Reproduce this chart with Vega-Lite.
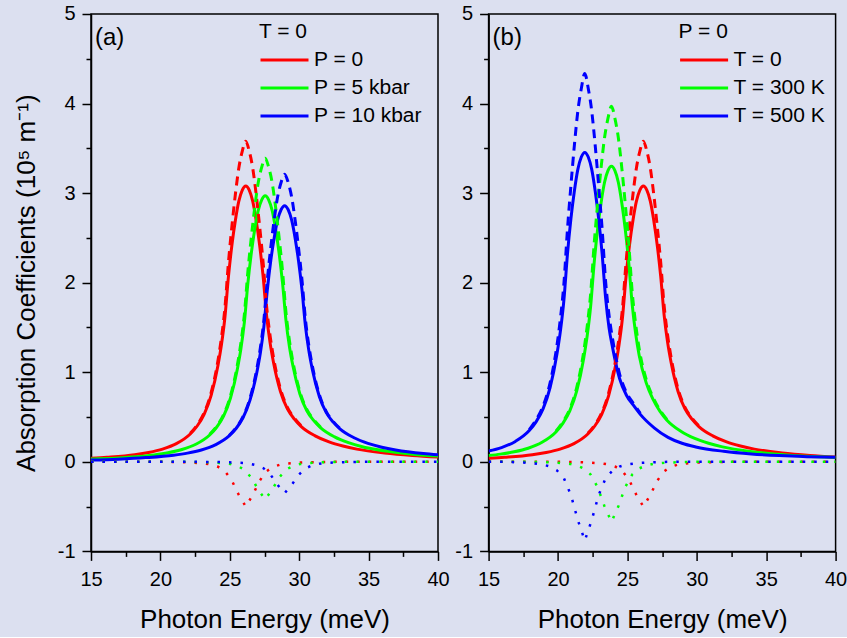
{
 "$schema": "https://vega.github.io/schema/vega-lite/v6.json",
 "background": "#DCE0F0",
 "padding": {"left": 12, "top": 3, "right": 0, "bottom": 4},
 "spacing": 50.6,
 "bounds": "flush",
 "resolve": {"scale": {"color": "independent"}, "legend": {"color": "independent"}},
 "datasets": {
  "a": [
   {"series":"P = 0","kind":"total","E":15,"A":0.039},{"series":"P = 0","kind":"total","E":16.15,"A":0.051},{"series":"P = 0","kind":"total","E":18.15,"A":0.080},{"series":"P = 0","kind":"total","E":19.15,"A":0.105},{"series":"P = 0","kind":"total","E":20.15,"A":0.142},{"series":"P = 0","kind":"total","E":21.15,"A":0.203},{"series":"P = 0","kind":"total","E":22.15,"A":0.311},{"series":"P = 0","kind":"total","E":22.65,"A":0.400},{"series":"P = 0","kind":"total","E":23.15,"A":0.530},{"series":"P = 0","kind":"total","E":23.65,"A":0.739},{"series":"P = 0","kind":"total","E":24.15,"A":1.078},{"series":"P = 0","kind":"total","E":24.4,"A":1.309},{"series":"P = 0","kind":"total","E":24.65,"A":1.617},{"series":"P = 0","kind":"total","E":24.9,"A":2.064},{"series":"P = 0","kind":"total","E":25.15,"A":2.418},{"series":"P = 0","kind":"total","E":25.4,"A":2.695},{"series":"P = 0","kind":"total","E":25.65,"A":2.911},{"series":"P = 0","kind":"total","E":25.9,"A":3.034},{"series":"P = 0","kind":"total","E":26.15,"A":3.08},{"series":"P = 0","kind":"total","E":26.4,"A":3.034},{"series":"P = 0","kind":"total","E":26.65,"A":2.911},{"series":"P = 0","kind":"total","E":26.9,"A":2.695},{"series":"P = 0","kind":"total","E":27.15,"A":2.418},{"series":"P = 0","kind":"total","E":27.4,"A":2.070},{"series":"P = 0","kind":"total","E":27.65,"A":1.632},{"series":"P = 0","kind":"total","E":27.9,"A":1.331},{"series":"P = 0","kind":"total","E":28.15,"A":1.109},{"series":"P = 0","kind":"total","E":28.65,"A":0.785},{"series":"P = 0","kind":"total","E":29.15,"A":0.591},{"series":"P = 0","kind":"total","E":29.65,"A":0.477},{"series":"P = 0","kind":"total","E":30.15,"A":0.394},{"series":"P = 0","kind":"total","E":31.15,"A":0.290},{"series":"P = 0","kind":"total","E":32.15,"A":0.222},{"series":"P = 0","kind":"total","E":33.15,"A":0.176},{"series":"P = 0","kind":"total","E":34.15,"A":0.142},{"series":"P = 0","kind":"total","E":36.15,"A":0.099},{"series":"P = 0","kind":"total","E":38.15,"A":0.071},{"series":"P = 0","kind":"total","E":40,"A":0.053},
   {"series":"P = 0","kind":"linear","E":22.15,"A":0.318},{"series":"P = 0","kind":"linear","E":22.65,"A":0.412},{"series":"P = 0","kind":"linear","E":23.15,"A":0.548},{"series":"P = 0","kind":"linear","E":23.65,"A":0.769},{"series":"P = 0","kind":"linear","E":24.15,"A":1.133},{"series":"P = 0","kind":"linear","E":24.4,"A":1.389},{"series":"P = 0","kind":"linear","E":24.65,"A":1.722},{"series":"P = 0","kind":"linear","E":24.9,"A":2.222},{"series":"P = 0","kind":"linear","E":25.15,"A":2.628},{"series":"P = 0","kind":"linear","E":25.4,"A":2.985},{"series":"P = 0","kind":"linear","E":25.65,"A":3.281},{"series":"P = 0","kind":"linear","E":25.9,"A":3.469},{"series":"P = 0","kind":"linear","E":26.15,"A":3.58},{"series":"P = 0","kind":"linear","E":26.4,"A":3.469},{"series":"P = 0","kind":"linear","E":26.65,"A":3.281},{"series":"P = 0","kind":"linear","E":26.9,"A":2.985},{"series":"P = 0","kind":"linear","E":27.15,"A":2.628},{"series":"P = 0","kind":"linear","E":27.4,"A":2.228},{"series":"P = 0","kind":"linear","E":27.65,"A":1.737},{"series":"P = 0","kind":"linear","E":27.9,"A":1.411},{"series":"P = 0","kind":"linear","E":28.15,"A":1.164},{"series":"P = 0","kind":"linear","E":28.65,"A":0.815},{"series":"P = 0","kind":"linear","E":29.15,"A":0.609},{"series":"P = 0","kind":"linear","E":29.65,"A":0.489},{"series":"P = 0","kind":"linear","E":30.15,"A":0.401},
   {"series":"P = 0","kind":"nonlinear","E":15,"A":0},{"series":"P = 0","kind":"nonlinear","E":20.15,"A":0},{"series":"P = 0","kind":"nonlinear","E":21.15,"A":-0.003},{"series":"P = 0","kind":"nonlinear","E":22.15,"A":-0.007},{"series":"P = 0","kind":"nonlinear","E":23.15,"A":-0.018},{"series":"P = 0","kind":"nonlinear","E":23.65,"A":-0.03},{"series":"P = 0","kind":"nonlinear","E":24.15,"A":-0.055},{"series":"P = 0","kind":"nonlinear","E":24.65,"A":-0.105},{"series":"P = 0","kind":"nonlinear","E":25.15,"A":-0.21},{"series":"P = 0","kind":"nonlinear","E":25.65,"A":-0.37},{"series":"P = 0","kind":"nonlinear","E":26.15,"A":-0.5},{"series":"P = 0","kind":"nonlinear","E":26.65,"A":-0.37},{"series":"P = 0","kind":"nonlinear","E":27.15,"A":-0.21},{"series":"P = 0","kind":"nonlinear","E":27.65,"A":-0.105},{"series":"P = 0","kind":"nonlinear","E":28.15,"A":-0.055},{"series":"P = 0","kind":"nonlinear","E":28.65,"A":-0.03},{"series":"P = 0","kind":"nonlinear","E":29.15,"A":-0.018},{"series":"P = 0","kind":"nonlinear","E":30.15,"A":-0.007},{"series":"P = 0","kind":"nonlinear","E":31.15,"A":-0.003},{"series":"P = 0","kind":"nonlinear","E":32.15,"A":0},{"series":"P = 0","kind":"nonlinear","E":40,"A":0},
   {"series":"P = 5 kbar","kind":"total","E":15,"A":0.031},{"series":"P = 5 kbar","kind":"total","E":15.55,"A":0.033},{"series":"P = 5 kbar","kind":"total","E":17.55,"A":0.049},{"series":"P = 5 kbar","kind":"total","E":19.55,"A":0.077},{"series":"P = 5 kbar","kind":"total","E":20.55,"A":0.101},{"series":"P = 5 kbar","kind":"total","E":21.55,"A":0.137},{"series":"P = 5 kbar","kind":"total","E":22.55,"A":0.196},{"series":"P = 5 kbar","kind":"total","E":23.55,"A":0.300},{"series":"P = 5 kbar","kind":"total","E":24.05,"A":0.386},{"series":"P = 5 kbar","kind":"total","E":24.55,"A":0.511},{"series":"P = 5 kbar","kind":"total","E":25.05,"A":0.713},{"series":"P = 5 kbar","kind":"total","E":25.55,"A":1.040},{"series":"P = 5 kbar","kind":"total","E":25.8,"A":1.262},{"series":"P = 5 kbar","kind":"total","E":26.05,"A":1.559},{"series":"P = 5 kbar","kind":"total","E":26.3,"A":1.990},{"series":"P = 5 kbar","kind":"total","E":26.55,"A":2.331},{"series":"P = 5 kbar","kind":"total","E":26.8,"A":2.599},{"series":"P = 5 kbar","kind":"total","E":27.05,"A":2.807},{"series":"P = 5 kbar","kind":"total","E":27.3,"A":2.925},{"series":"P = 5 kbar","kind":"total","E":27.55,"A":2.97},{"series":"P = 5 kbar","kind":"total","E":27.8,"A":2.925},{"series":"P = 5 kbar","kind":"total","E":28.05,"A":2.807},{"series":"P = 5 kbar","kind":"total","E":28.3,"A":2.599},{"series":"P = 5 kbar","kind":"total","E":28.55,"A":2.331},{"series":"P = 5 kbar","kind":"total","E":28.8,"A":1.996},{"series":"P = 5 kbar","kind":"total","E":29.05,"A":1.574},{"series":"P = 5 kbar","kind":"total","E":29.3,"A":1.283},{"series":"P = 5 kbar","kind":"total","E":29.55,"A":1.069},{"series":"P = 5 kbar","kind":"total","E":30.05,"A":0.757},{"series":"P = 5 kbar","kind":"total","E":30.55,"A":0.570},{"series":"P = 5 kbar","kind":"total","E":31.05,"A":0.460},{"series":"P = 5 kbar","kind":"total","E":31.55,"A":0.380},{"series":"P = 5 kbar","kind":"total","E":32.55,"A":0.279},{"series":"P = 5 kbar","kind":"total","E":33.55,"A":0.214},{"series":"P = 5 kbar","kind":"total","E":34.55,"A":0.169},{"series":"P = 5 kbar","kind":"total","E":35.55,"A":0.137},{"series":"P = 5 kbar","kind":"total","E":37.55,"A":0.095},{"series":"P = 5 kbar","kind":"total","E":39.55,"A":0.068},{"series":"P = 5 kbar","kind":"total","E":40,"A":0.064},
   {"series":"P = 5 kbar","kind":"linear","E":23.55,"A":0.306},{"series":"P = 5 kbar","kind":"linear","E":24.05,"A":0.396},{"series":"P = 5 kbar","kind":"linear","E":24.55,"A":0.526},{"series":"P = 5 kbar","kind":"linear","E":25.05,"A":0.738},{"series":"P = 5 kbar","kind":"linear","E":25.55,"A":1.086},{"series":"P = 5 kbar","kind":"linear","E":25.8,"A":1.329},{"series":"P = 5 kbar","kind":"linear","E":26.05,"A":1.647},{"series":"P = 5 kbar","kind":"linear","E":26.3,"A":2.122},{"series":"P = 5 kbar","kind":"linear","E":26.55,"A":2.507},{"series":"P = 5 kbar","kind":"linear","E":26.8,"A":2.843},{"series":"P = 5 kbar","kind":"linear","E":27.05,"A":3.118},{"series":"P = 5 kbar","kind":"linear","E":27.3,"A":3.29},{"series":"P = 5 kbar","kind":"linear","E":27.55,"A":3.39},{"series":"P = 5 kbar","kind":"linear","E":27.8,"A":3.29},{"series":"P = 5 kbar","kind":"linear","E":28.05,"A":3.118},{"series":"P = 5 kbar","kind":"linear","E":28.3,"A":2.843},{"series":"P = 5 kbar","kind":"linear","E":28.55,"A":2.507},{"series":"P = 5 kbar","kind":"linear","E":28.8,"A":2.128},{"series":"P = 5 kbar","kind":"linear","E":29.05,"A":1.662},{"series":"P = 5 kbar","kind":"linear","E":29.3,"A":1.35},{"series":"P = 5 kbar","kind":"linear","E":29.55,"A":1.115},{"series":"P = 5 kbar","kind":"linear","E":30.05,"A":0.782},{"series":"P = 5 kbar","kind":"linear","E":30.55,"A":0.585},{"series":"P = 5 kbar","kind":"linear","E":31.05,"A":0.47},{"series":"P = 5 kbar","kind":"linear","E":31.55,"A":0.386},
   {"series":"P = 5 kbar","kind":"nonlinear","E":15,"A":0},{"series":"P = 5 kbar","kind":"nonlinear","E":21.55,"A":0},{"series":"P = 5 kbar","kind":"nonlinear","E":22.55,"A":-0.002},{"series":"P = 5 kbar","kind":"nonlinear","E":23.55,"A":-0.006},{"series":"P = 5 kbar","kind":"nonlinear","E":24.55,"A":-0.015},{"series":"P = 5 kbar","kind":"nonlinear","E":25.05,"A":-0.025},{"series":"P = 5 kbar","kind":"nonlinear","E":25.55,"A":-0.046},{"series":"P = 5 kbar","kind":"nonlinear","E":26.05,"A":-0.088},{"series":"P = 5 kbar","kind":"nonlinear","E":26.55,"A":-0.176},{"series":"P = 5 kbar","kind":"nonlinear","E":27.05,"A":-0.311},{"series":"P = 5 kbar","kind":"nonlinear","E":27.55,"A":-0.42},{"series":"P = 5 kbar","kind":"nonlinear","E":28.05,"A":-0.311},{"series":"P = 5 kbar","kind":"nonlinear","E":28.55,"A":-0.176},{"series":"P = 5 kbar","kind":"nonlinear","E":29.05,"A":-0.088},{"series":"P = 5 kbar","kind":"nonlinear","E":29.55,"A":-0.046},{"series":"P = 5 kbar","kind":"nonlinear","E":30.05,"A":-0.025},{"series":"P = 5 kbar","kind":"nonlinear","E":30.55,"A":-0.015},{"series":"P = 5 kbar","kind":"nonlinear","E":31.55,"A":-0.006},{"series":"P = 5 kbar","kind":"nonlinear","E":32.55,"A":-0.002},{"series":"P = 5 kbar","kind":"nonlinear","E":33.55,"A":0},{"series":"P = 5 kbar","kind":"nonlinear","E":40,"A":0},
   {"series":"P = 10 kbar","kind":"total","E":15,"A":0.020},{"series":"P = 10 kbar","kind":"total","E":16.95,"A":0.030},{"series":"P = 10 kbar","kind":"total","E":18.95,"A":0.047},{"series":"P = 10 kbar","kind":"total","E":20.95,"A":0.074},{"series":"P = 10 kbar","kind":"total","E":21.95,"A":0.097},{"series":"P = 10 kbar","kind":"total","E":22.95,"A":0.132},{"series":"P = 10 kbar","kind":"total","E":23.95,"A":0.189},{"series":"P = 10 kbar","kind":"total","E":24.95,"A":0.289},{"series":"P = 10 kbar","kind":"total","E":25.45,"A":0.372},{"series":"P = 10 kbar","kind":"total","E":25.95,"A":0.492},{"series":"P = 10 kbar","kind":"total","E":26.45,"A":0.686},{"series":"P = 10 kbar","kind":"total","E":26.95,"A":1.001},{"series":"P = 10 kbar","kind":"total","E":27.2,"A":1.216},{"series":"P = 10 kbar","kind":"total","E":27.45,"A":1.502},{"series":"P = 10 kbar","kind":"total","E":27.7,"A":1.916},{"series":"P = 10 kbar","kind":"total","E":27.95,"A":2.245},{"series":"P = 10 kbar","kind":"total","E":28.2,"A":2.503},{"series":"P = 10 kbar","kind":"total","E":28.45,"A":2.703},{"series":"P = 10 kbar","kind":"total","E":28.7,"A":2.817},{"series":"P = 10 kbar","kind":"total","E":28.95,"A":2.86},{"series":"P = 10 kbar","kind":"total","E":29.2,"A":2.817},{"series":"P = 10 kbar","kind":"total","E":29.45,"A":2.703},{"series":"P = 10 kbar","kind":"total","E":29.7,"A":2.503},{"series":"P = 10 kbar","kind":"total","E":29.95,"A":2.245},{"series":"P = 10 kbar","kind":"total","E":30.2,"A":1.922},{"series":"P = 10 kbar","kind":"total","E":30.45,"A":1.516},{"series":"P = 10 kbar","kind":"total","E":30.7,"A":1.236},{"series":"P = 10 kbar","kind":"total","E":30.95,"A":1.030},{"series":"P = 10 kbar","kind":"total","E":31.45,"A":0.729},{"series":"P = 10 kbar","kind":"total","E":31.95,"A":0.549},{"series":"P = 10 kbar","kind":"total","E":32.45,"A":0.443},{"series":"P = 10 kbar","kind":"total","E":32.95,"A":0.366},{"series":"P = 10 kbar","kind":"total","E":33.95,"A":0.269},{"series":"P = 10 kbar","kind":"total","E":34.95,"A":0.206},{"series":"P = 10 kbar","kind":"total","E":35.95,"A":0.163},{"series":"P = 10 kbar","kind":"total","E":36.95,"A":0.132},{"series":"P = 10 kbar","kind":"total","E":38.95,"A":0.092},{"series":"P = 10 kbar","kind":"total","E":40,"A":0.078},
   {"series":"P = 10 kbar","kind":"linear","E":24.95,"A":0.294},{"series":"P = 10 kbar","kind":"linear","E":25.45,"A":0.380},{"series":"P = 10 kbar","kind":"linear","E":25.95,"A":0.504},{"series":"P = 10 kbar","kind":"linear","E":26.45,"A":0.707},{"series":"P = 10 kbar","kind":"linear","E":26.95,"A":1.040},{"series":"P = 10 kbar","kind":"linear","E":27.2,"A":1.272},{"series":"P = 10 kbar","kind":"linear","E":27.45,"A":1.575},{"series":"P = 10 kbar","kind":"linear","E":27.7,"A":2.026},{"series":"P = 10 kbar","kind":"linear","E":27.95,"A":2.392},{"series":"P = 10 kbar","kind":"linear","E":28.2,"A":2.706},{"series":"P = 10 kbar","kind":"linear","E":28.45,"A":2.962},{"series":"P = 10 kbar","kind":"linear","E":28.7,"A":3.122},{"series":"P = 10 kbar","kind":"linear","E":28.95,"A":3.21},{"series":"P = 10 kbar","kind":"linear","E":29.2,"A":3.122},{"series":"P = 10 kbar","kind":"linear","E":29.45,"A":2.962},{"series":"P = 10 kbar","kind":"linear","E":29.7,"A":2.706},{"series":"P = 10 kbar","kind":"linear","E":29.95,"A":2.392},{"series":"P = 10 kbar","kind":"linear","E":30.2,"A":2.032},{"series":"P = 10 kbar","kind":"linear","E":30.45,"A":1.590},{"series":"P = 10 kbar","kind":"linear","E":30.7,"A":1.292},{"series":"P = 10 kbar","kind":"linear","E":30.95,"A":1.069},{"series":"P = 10 kbar","kind":"linear","E":31.45,"A":0.750},{"series":"P = 10 kbar","kind":"linear","E":31.95,"A":0.561},{"series":"P = 10 kbar","kind":"linear","E":32.45,"A":0.451},{"series":"P = 10 kbar","kind":"linear","E":32.95,"A":0.371},
   {"series":"P = 10 kbar","kind":"nonlinear","E":15,"A":0},{"series":"P = 10 kbar","kind":"nonlinear","E":22.95,"A":0},{"series":"P = 10 kbar","kind":"nonlinear","E":23.95,"A":-0.002},{"series":"P = 10 kbar","kind":"nonlinear","E":24.95,"A":-0.005},{"series":"P = 10 kbar","kind":"nonlinear","E":25.95,"A":-0.012},{"series":"P = 10 kbar","kind":"nonlinear","E":26.45,"A":-0.021},{"series":"P = 10 kbar","kind":"nonlinear","E":26.95,"A":-0.039},{"series":"P = 10 kbar","kind":"nonlinear","E":27.45,"A":-0.074},{"series":"P = 10 kbar","kind":"nonlinear","E":27.95,"A":-0.147},{"series":"P = 10 kbar","kind":"nonlinear","E":28.45,"A":-0.259},{"series":"P = 10 kbar","kind":"nonlinear","E":28.95,"A":-0.35},{"series":"P = 10 kbar","kind":"nonlinear","E":29.45,"A":-0.259},{"series":"P = 10 kbar","kind":"nonlinear","E":29.95,"A":-0.147},{"series":"P = 10 kbar","kind":"nonlinear","E":30.45,"A":-0.074},{"series":"P = 10 kbar","kind":"nonlinear","E":30.95,"A":-0.039},{"series":"P = 10 kbar","kind":"nonlinear","E":31.45,"A":-0.021},{"series":"P = 10 kbar","kind":"nonlinear","E":31.95,"A":-0.012},{"series":"P = 10 kbar","kind":"nonlinear","E":32.95,"A":-0.005},{"series":"P = 10 kbar","kind":"nonlinear","E":33.95,"A":-0.002},{"series":"P = 10 kbar","kind":"nonlinear","E":34.95,"A":0},{"series":"P = 10 kbar","kind":"nonlinear","E":40,"A":0}
  ],
  "b": [
   {"series":"T = 0","kind":"total","E":15,"A":0.039},{"series":"T = 0","kind":"total","E":16.15,"A":0.051},{"series":"T = 0","kind":"total","E":18.15,"A":0.080},{"series":"T = 0","kind":"total","E":19.15,"A":0.105},{"series":"T = 0","kind":"total","E":20.15,"A":0.142},{"series":"T = 0","kind":"total","E":21.15,"A":0.203},{"series":"T = 0","kind":"total","E":22.15,"A":0.311},{"series":"T = 0","kind":"total","E":22.65,"A":0.400},{"series":"T = 0","kind":"total","E":23.15,"A":0.530},{"series":"T = 0","kind":"total","E":23.65,"A":0.739},{"series":"T = 0","kind":"total","E":24.15,"A":1.078},{"series":"T = 0","kind":"total","E":24.4,"A":1.309},{"series":"T = 0","kind":"total","E":24.65,"A":1.617},{"series":"T = 0","kind":"total","E":24.9,"A":2.064},{"series":"T = 0","kind":"total","E":25.15,"A":2.418},{"series":"T = 0","kind":"total","E":25.4,"A":2.695},{"series":"T = 0","kind":"total","E":25.65,"A":2.911},{"series":"T = 0","kind":"total","E":25.9,"A":3.034},{"series":"T = 0","kind":"total","E":26.15,"A":3.08},{"series":"T = 0","kind":"total","E":26.4,"A":3.034},{"series":"T = 0","kind":"total","E":26.65,"A":2.911},{"series":"T = 0","kind":"total","E":26.9,"A":2.695},{"series":"T = 0","kind":"total","E":27.15,"A":2.418},{"series":"T = 0","kind":"total","E":27.4,"A":2.070},{"series":"T = 0","kind":"total","E":27.65,"A":1.632},{"series":"T = 0","kind":"total","E":27.9,"A":1.331},{"series":"T = 0","kind":"total","E":28.15,"A":1.109},{"series":"T = 0","kind":"total","E":28.65,"A":0.785},{"series":"T = 0","kind":"total","E":29.15,"A":0.591},{"series":"T = 0","kind":"total","E":29.65,"A":0.477},{"series":"T = 0","kind":"total","E":30.15,"A":0.394},{"series":"T = 0","kind":"total","E":31.15,"A":0.290},{"series":"T = 0","kind":"total","E":32.15,"A":0.222},{"series":"T = 0","kind":"total","E":33.15,"A":0.176},{"series":"T = 0","kind":"total","E":34.15,"A":0.142},{"series":"T = 0","kind":"total","E":36.15,"A":0.099},{"series":"T = 0","kind":"total","E":38.15,"A":0.071},{"series":"T = 0","kind":"total","E":40,"A":0.053},
   {"series":"T = 0","kind":"linear","E":22.15,"A":0.318},{"series":"T = 0","kind":"linear","E":22.65,"A":0.412},{"series":"T = 0","kind":"linear","E":23.15,"A":0.548},{"series":"T = 0","kind":"linear","E":23.65,"A":0.769},{"series":"T = 0","kind":"linear","E":24.15,"A":1.133},{"series":"T = 0","kind":"linear","E":24.4,"A":1.389},{"series":"T = 0","kind":"linear","E":24.65,"A":1.722},{"series":"T = 0","kind":"linear","E":24.9,"A":2.222},{"series":"T = 0","kind":"linear","E":25.15,"A":2.628},{"series":"T = 0","kind":"linear","E":25.4,"A":2.985},{"series":"T = 0","kind":"linear","E":25.65,"A":3.281},{"series":"T = 0","kind":"linear","E":25.9,"A":3.469},{"series":"T = 0","kind":"linear","E":26.15,"A":3.58},{"series":"T = 0","kind":"linear","E":26.4,"A":3.469},{"series":"T = 0","kind":"linear","E":26.65,"A":3.281},{"series":"T = 0","kind":"linear","E":26.9,"A":2.985},{"series":"T = 0","kind":"linear","E":27.15,"A":2.628},{"series":"T = 0","kind":"linear","E":27.4,"A":2.228},{"series":"T = 0","kind":"linear","E":27.65,"A":1.737},{"series":"T = 0","kind":"linear","E":27.9,"A":1.411},{"series":"T = 0","kind":"linear","E":28.15,"A":1.164},{"series":"T = 0","kind":"linear","E":28.65,"A":0.815},{"series":"T = 0","kind":"linear","E":29.15,"A":0.609},{"series":"T = 0","kind":"linear","E":29.65,"A":0.489},{"series":"T = 0","kind":"linear","E":30.15,"A":0.401},
   {"series":"T = 0","kind":"nonlinear","E":15,"A":0},{"series":"T = 0","kind":"nonlinear","E":20.15,"A":0},{"series":"T = 0","kind":"nonlinear","E":21.15,"A":-0.003},{"series":"T = 0","kind":"nonlinear","E":22.15,"A":-0.007},{"series":"T = 0","kind":"nonlinear","E":23.15,"A":-0.018},{"series":"T = 0","kind":"nonlinear","E":23.65,"A":-0.03},{"series":"T = 0","kind":"nonlinear","E":24.15,"A":-0.055},{"series":"T = 0","kind":"nonlinear","E":24.65,"A":-0.105},{"series":"T = 0","kind":"nonlinear","E":25.15,"A":-0.21},{"series":"T = 0","kind":"nonlinear","E":25.65,"A":-0.37},{"series":"T = 0","kind":"nonlinear","E":26.15,"A":-0.5},{"series":"T = 0","kind":"nonlinear","E":26.65,"A":-0.37},{"series":"T = 0","kind":"nonlinear","E":27.15,"A":-0.21},{"series":"T = 0","kind":"nonlinear","E":27.65,"A":-0.105},{"series":"T = 0","kind":"nonlinear","E":28.15,"A":-0.055},{"series":"T = 0","kind":"nonlinear","E":28.65,"A":-0.03},{"series":"T = 0","kind":"nonlinear","E":29.15,"A":-0.018},{"series":"T = 0","kind":"nonlinear","E":30.15,"A":-0.007},{"series":"T = 0","kind":"nonlinear","E":31.15,"A":-0.003},{"series":"T = 0","kind":"nonlinear","E":32.15,"A":0},{"series":"T = 0","kind":"nonlinear","E":40,"A":0},
   {"series":"T = 300 K","kind":"total","E":15,"A":0.070},{"series":"T = 300 K","kind":"total","E":15.85,"A":0.086},{"series":"T = 300 K","kind":"total","E":16.85,"A":0.112},{"series":"T = 300 K","kind":"total","E":17.85,"A":0.152},{"series":"T = 300 K","kind":"total","E":18.85,"A":0.218},{"series":"T = 300 K","kind":"total","E":19.85,"A":0.333},{"series":"T = 300 K","kind":"total","E":20.35,"A":0.429},{"series":"T = 300 K","kind":"total","E":20.85,"A":0.568},{"series":"T = 300 K","kind":"total","E":21.35,"A":0.792},{"series":"T = 300 K","kind":"total","E":21.85,"A":1.155},{"series":"T = 300 K","kind":"total","E":22.1,"A":1.403},{"series":"T = 300 K","kind":"total","E":22.35,"A":1.733},{"series":"T = 300 K","kind":"total","E":22.6,"A":2.211},{"series":"T = 300 K","kind":"total","E":22.85,"A":2.591},{"series":"T = 300 K","kind":"total","E":23.1,"A":2.888},{"series":"T = 300 K","kind":"total","E":23.35,"A":3.119},{"series":"T = 300 K","kind":"total","E":23.6,"A":3.251},{"series":"T = 300 K","kind":"total","E":23.85,"A":3.30},{"series":"T = 300 K","kind":"total","E":24.1,"A":3.251},{"series":"T = 300 K","kind":"total","E":24.35,"A":3.119},{"series":"T = 300 K","kind":"total","E":24.6,"A":2.888},{"series":"T = 300 K","kind":"total","E":24.85,"A":2.591},{"series":"T = 300 K","kind":"total","E":25.1,"A":2.218},{"series":"T = 300 K","kind":"total","E":25.35,"A":1.749},{"series":"T = 300 K","kind":"total","E":25.6,"A":1.426},{"series":"T = 300 K","kind":"total","E":25.85,"A":1.188},{"series":"T = 300 K","kind":"total","E":26.35,"A":0.884},{"series":"T = 300 K","kind":"total","E":26.85,"A":0.697},{"series":"T = 300 K","kind":"total","E":27.35,"A":0.563},{"series":"T = 300 K","kind":"total","E":27.85,"A":0.465},{"series":"T = 300 K","kind":"total","E":28.85,"A":0.341},{"series":"T = 300 K","kind":"total","E":29.85,"A":0.261},{"series":"T = 300 K","kind":"total","E":30.85,"A":0.207},{"series":"T = 300 K","kind":"total","E":31.85,"A":0.167},{"series":"T = 300 K","kind":"total","E":33.85,"A":0.116},{"series":"T = 300 K","kind":"total","E":35.85,"A":0.084},{"series":"T = 300 K","kind":"total","E":37.85,"A":0.061},{"series":"T = 300 K","kind":"total","E":40,"A":0.048},
   {"series":"T = 300 K","kind":"linear","E":19.85,"A":0.342},{"series":"T = 300 K","kind":"linear","E":20.35,"A":0.445},{"series":"T = 300 K","kind":"linear","E":20.85,"A":0.591},{"series":"T = 300 K","kind":"linear","E":21.35,"A":0.832},{"series":"T = 300 K","kind":"linear","E":21.85,"A":1.229},{"series":"T = 300 K","kind":"linear","E":22.1,"A":1.510},{"series":"T = 300 K","kind":"linear","E":22.35,"A":1.874},{"series":"T = 300 K","kind":"linear","E":22.6,"A":2.422},{"series":"T = 300 K","kind":"linear","E":22.85,"A":2.872},{"series":"T = 300 K","kind":"linear","E":23.1,"A":3.277},{"series":"T = 300 K","kind":"linear","E":23.35,"A":3.615},{"series":"T = 300 K","kind":"linear","E":23.6,"A":3.834},{"series":"T = 300 K","kind":"linear","E":23.85,"A":3.97},{"series":"T = 300 K","kind":"linear","E":24.1,"A":3.834},{"series":"T = 300 K","kind":"linear","E":24.35,"A":3.615},{"series":"T = 300 K","kind":"linear","E":24.6,"A":3.277},{"series":"T = 300 K","kind":"linear","E":24.85,"A":2.872},{"series":"T = 300 K","kind":"linear","E":25.1,"A":2.429},{"series":"T = 300 K","kind":"linear","E":25.35,"A":1.890},{"series":"T = 300 K","kind":"linear","E":25.6,"A":1.533},{"series":"T = 300 K","kind":"linear","E":25.85,"A":1.262},{"series":"T = 300 K","kind":"linear","E":26.35,"A":0.924},{"series":"T = 300 K","kind":"linear","E":26.85,"A":0.720},{"series":"T = 300 K","kind":"linear","E":27.35,"A":0.579},{"series":"T = 300 K","kind":"linear","E":27.85,"A":0.473},
   {"series":"T = 300 K","kind":"nonlinear","E":15,"A":0},{"series":"T = 300 K","kind":"nonlinear","E":17.85,"A":0},{"series":"T = 300 K","kind":"nonlinear","E":18.85,"A":-0.003},{"series":"T = 300 K","kind":"nonlinear","E":19.85,"A":-0.009},{"series":"T = 300 K","kind":"nonlinear","E":20.85,"A":-0.023},{"series":"T = 300 K","kind":"nonlinear","E":21.35,"A":-0.040},{"series":"T = 300 K","kind":"nonlinear","E":21.85,"A":-0.074},{"series":"T = 300 K","kind":"nonlinear","E":22.35,"A":-0.141},{"series":"T = 300 K","kind":"nonlinear","E":22.85,"A":-0.281},{"series":"T = 300 K","kind":"nonlinear","E":23.35,"A":-0.496},{"series":"T = 300 K","kind":"nonlinear","E":23.85,"A":-0.67},{"series":"T = 300 K","kind":"nonlinear","E":24.35,"A":-0.496},{"series":"T = 300 K","kind":"nonlinear","E":24.85,"A":-0.281},{"series":"T = 300 K","kind":"nonlinear","E":25.35,"A":-0.141},{"series":"T = 300 K","kind":"nonlinear","E":25.85,"A":-0.074},{"series":"T = 300 K","kind":"nonlinear","E":26.35,"A":-0.040},{"series":"T = 300 K","kind":"nonlinear","E":26.85,"A":-0.023},{"series":"T = 300 K","kind":"nonlinear","E":27.85,"A":-0.009},{"series":"T = 300 K","kind":"nonlinear","E":28.85,"A":-0.003},{"series":"T = 300 K","kind":"nonlinear","E":29.85,"A":0},{"series":"T = 300 K","kind":"nonlinear","E":40,"A":0},
   {"series":"T = 500 K","kind":"total","E":15,"A":0.120},{"series":"T = 500 K","kind":"total","E":15.93,"A":0.159},{"series":"T = 500 K","kind":"total","E":16.93,"A":0.228},{"series":"T = 500 K","kind":"total","E":17.93,"A":0.349},{"series":"T = 500 K","kind":"total","E":18.43,"A":0.449},{"series":"T = 500 K","kind":"total","E":18.93,"A":0.594},{"series":"T = 500 K","kind":"total","E":19.43,"A":0.829},{"series":"T = 500 K","kind":"total","E":19.93,"A":1.209},{"series":"T = 500 K","kind":"total","E":20.18,"A":1.468},{"series":"T = 500 K","kind":"total","E":20.43,"A":1.814},{"series":"T = 500 K","kind":"total","E":20.68,"A":2.315},{"series":"T = 500 K","kind":"total","E":20.93,"A":2.712},{"series":"T = 500 K","kind":"total","E":21.18,"A":3.023},{"series":"T = 500 K","kind":"total","E":21.43,"A":3.265},{"series":"T = 500 K","kind":"total","E":21.68,"A":3.403},{"series":"T = 500 K","kind":"total","E":21.93,"A":3.455},{"series":"T = 500 K","kind":"total","E":22.18,"A":3.403},{"series":"T = 500 K","kind":"total","E":22.43,"A":3.265},{"series":"T = 500 K","kind":"total","E":22.68,"A":3.023},{"series":"T = 500 K","kind":"total","E":22.93,"A":2.712},{"series":"T = 500 K","kind":"total","E":23.18,"A":2.322},{"series":"T = 500 K","kind":"total","E":23.43,"A":1.831},{"series":"T = 500 K","kind":"total","E":23.68,"A":1.493},{"series":"T = 500 K","kind":"total","E":23.93,"A":1.278},{"series":"T = 500 K","kind":"total","E":24.43,"A":0.933},{"series":"T = 500 K","kind":"total","E":24.93,"A":0.743},{"series":"T = 500 K","kind":"total","E":25.43,"A":0.632},{"series":"T = 500 K","kind":"total","E":25.93,"A":0.530},{"series":"T = 500 K","kind":"total","E":26.93,"A":0.380},{"series":"T = 500 K","kind":"total","E":27.93,"A":0.273},{"series":"T = 500 K","kind":"total","E":28.93,"A":0.207},{"series":"T = 500 K","kind":"total","E":29.93,"A":0.166},{"series":"T = 500 K","kind":"total","E":31.93,"A":0.118},{"series":"T = 500 K","kind":"total","E":33.93,"A":0.088},{"series":"T = 500 K","kind":"total","E":35.93,"A":0.070},{"series":"T = 500 K","kind":"total","E":37.93,"A":0.058},{"series":"T = 500 K","kind":"total","E":40,"A":0.050},
   {"series":"T = 500 K","kind":"linear","E":17.93,"A":0.360},{"series":"T = 500 K","kind":"linear","E":18.43,"A":0.470},{"series":"T = 500 K","kind":"linear","E":18.93,"A":0.625},{"series":"T = 500 K","kind":"linear","E":19.43,"A":0.882},{"series":"T = 500 K","kind":"linear","E":19.93,"A":1.306},{"series":"T = 500 K","kind":"linear","E":20.18,"A":1.609},{"series":"T = 500 K","kind":"linear","E":20.43,"A":1.999},{"series":"T = 500 K","kind":"linear","E":20.68,"A":2.592},{"series":"T = 500 K","kind":"linear","E":20.93,"A":3.082},{"series":"T = 500 K","kind":"linear","E":21.18,"A":3.533},{"series":"T = 500 K","kind":"linear","E":21.43,"A":3.916},{"series":"T = 500 K","kind":"linear","E":21.68,"A":4.169},{"series":"T = 500 K","kind":"linear","E":21.93,"A":4.335},{"series":"T = 500 K","kind":"linear","E":22.18,"A":4.169},{"series":"T = 500 K","kind":"linear","E":22.43,"A":3.916},{"series":"T = 500 K","kind":"linear","E":22.68,"A":3.533},{"series":"T = 500 K","kind":"linear","E":22.93,"A":3.082},{"series":"T = 500 K","kind":"linear","E":23.18,"A":2.599},{"series":"T = 500 K","kind":"linear","E":23.43,"A":2.016},{"series":"T = 500 K","kind":"linear","E":23.68,"A":1.634},{"series":"T = 500 K","kind":"linear","E":23.93,"A":1.375},{"series":"T = 500 K","kind":"linear","E":24.43,"A":0.986},{"series":"T = 500 K","kind":"linear","E":24.93,"A":0.774},{"series":"T = 500 K","kind":"linear","E":25.43,"A":0.653},{"series":"T = 500 K","kind":"linear","E":25.93,"A":0.541},
   {"series":"T = 500 K","kind":"nonlinear","E":15,"A":0},{"series":"T = 500 K","kind":"nonlinear","E":15.93,"A":0},{"series":"T = 500 K","kind":"nonlinear","E":16.93,"A":-0.004},{"series":"T = 500 K","kind":"nonlinear","E":17.93,"A":-0.011},{"series":"T = 500 K","kind":"nonlinear","E":18.93,"A":-0.031},{"series":"T = 500 K","kind":"nonlinear","E":19.43,"A":-0.053},{"series":"T = 500 K","kind":"nonlinear","E":19.93,"A":-0.097},{"series":"T = 500 K","kind":"nonlinear","E":20.43,"A":-0.185},{"series":"T = 500 K","kind":"nonlinear","E":20.93,"A":-0.37},{"series":"T = 500 K","kind":"nonlinear","E":21.43,"A":-0.651},{"series":"T = 500 K","kind":"nonlinear","E":21.93,"A":-0.88},{"series":"T = 500 K","kind":"nonlinear","E":22.43,"A":-0.651},{"series":"T = 500 K","kind":"nonlinear","E":22.93,"A":-0.37},{"series":"T = 500 K","kind":"nonlinear","E":23.43,"A":-0.185},{"series":"T = 500 K","kind":"nonlinear","E":23.93,"A":-0.097},{"series":"T = 500 K","kind":"nonlinear","E":24.43,"A":-0.053},{"series":"T = 500 K","kind":"nonlinear","E":24.93,"A":-0.031},{"series":"T = 500 K","kind":"nonlinear","E":25.93,"A":-0.011},{"series":"T = 500 K","kind":"nonlinear","E":26.93,"A":-0.004},{"series":"T = 500 K","kind":"nonlinear","E":27.93,"A":0},{"series":"T = 500 K","kind":"nonlinear","E":40,"A":0}
  ]
 },
 "hconcat": [
  {
   "width": 347, "height": 537.4,
   "data": {"name": "a"},
   "title": {"text": "(a)", "anchor": "start", "frame": "group", "orient": "top", "offset": -46, "dx": 4, "fontSize": 24, "fontWeight": "normal", "font": "Liberation Sans", "color": "#000000"},
   "resolve": {"axis": {"x": "independent", "y": "independent"}},
   "layer": [
    {
     "transform": [{"filter": "datum.kind === 'total'"}],
     "mark": {"type": "line", "strokeWidth": 3, "interpolate": "monotone", "clip": true},
     "encoding": {
      "x": {"field": "E", "type": "quantitative", "scale": {"domain": [15, 40], "nice": false, "zero": false},
            "axis": {"orient": "bottom", "values": [15, 20, 25, 30, 35, 40], "title": "Photon Energy (meV)", "tickSize": 9, "labelPadding": 9, "titlePadding": 17}},
      "y": {"field": "A", "type": "quantitative", "scale": {"domain": [-1, 5], "nice": false, "zero": false},
            "axis": {"orient": "left", "values": [-1, 0, 1, 2, 3, 4, 5], "title": "Absorption Coefficients (10⁵ m⁻¹)", "tickSize": 9, "labelPadding": 7, "titlePadding": 18, "labelExpr": "'' + datum.value"}},
      "color": {"field": "series", "type": "nominal", "sort": null,
                "scale": {"domain": ["P = 0", "P = 5 kbar", "P = 10 kbar"], "range": ["#FF0000", "#00FF00", "#0000FF"]},
                "legend": {"title": "T = 0", "orient": "none", "legendX": 168, "legendY": 7, "symbolType": "stroke", "symbolSize": 2304, "symbolStrokeWidth": 3, "clipHeight": 22, "rowPadding": 6, "labelOffset": 4, "titlePadding": 7, "labelFontSize": 21, "titleFontSize": 21, "titleFontWeight": "normal", "labelFont": "Liberation Sans", "titleFont": "Liberation Sans", "labelColor": "#000000", "titleColor": "#000000", "padding": 0}}
     }
    },
    {
     "transform": [{"filter": "datum.kind === 'linear'"}],
     "mark": {"type": "line", "strokeWidth": 3, "interpolate": "monotone", "strokeDash": [9, 6], "clip": true},
     "encoding": {
      "x": {"field": "E", "type": "quantitative", "axis": null},
      "y": {"field": "A", "type": "quantitative", "axis": null},
      "color": {"field": "series", "type": "nominal", "sort": null, "legend": null}
     }
    },
    {
     "transform": [{"filter": "datum.kind === 'nonlinear'"}],
     "mark": {"type": "line", "strokeWidth": 2.5, "interpolate": "linear", "strokeDash": [2.5, 9], "clip": true},
     "encoding": {
      "x": {"field": "E", "type": "quantitative", "axis": {"orient": "bottom", "values": [17.5, 22.5, 27.5, 32.5, 37.5], "tickSize": 5, "labels": false, "domain": false, "title": null}},
      "y": {"field": "A", "type": "quantitative", "axis": {"orient": "left", "values": [-0.5, 0.5, 1.5, 2.5, 3.5, 4.5], "tickSize": 5, "labels": false, "domain": false, "title": null}},
      "color": {"field": "series", "type": "nominal", "sort": null, "legend": null}
     }
    }
   ]
  },
  {
   "width": 347, "height": 537.4,
   "data": {"name": "b"},
   "title": {"text": "(b)", "anchor": "start", "frame": "group", "orient": "top", "offset": -46, "dx": 4, "fontSize": 24, "fontWeight": "normal", "font": "Liberation Sans", "color": "#000000"},
   "resolve": {"axis": {"x": "independent", "y": "independent"}},
   "layer": [
    {
     "transform": [{"filter": "datum.kind === 'total'"}],
     "mark": {"type": "line", "strokeWidth": 3, "interpolate": "monotone", "clip": true},
     "encoding": {
      "x": {"field": "E", "type": "quantitative", "scale": {"domain": [15, 40], "nice": false, "zero": false},
            "axis": {"orient": "bottom", "values": [15, 20, 25, 30, 35, 40], "title": "Photon Energy (meV)", "tickSize": 9, "labelPadding": 9, "titlePadding": 17}},
      "y": {"field": "A", "type": "quantitative", "scale": {"domain": [-1, 5], "nice": false, "zero": false},
            "axis": {"orient": "left", "values": [-1, 0, 1, 2, 3, 4, 5], "title": null, "tickSize": 9, "labelPadding": 7, "labelExpr": "'' + datum.value"}},
      "color": {"field": "series", "type": "nominal", "sort": null,
                "scale": {"domain": ["T = 0", "T = 300 K", "T = 500 K"], "range": ["#FF0000", "#00FF00", "#0000FF"]},
                "legend": {"title": "P = 0", "orient": "none", "legendX": 190, "legendY": 7, "symbolType": "stroke", "symbolSize": 2304, "symbolStrokeWidth": 3, "clipHeight": 22, "rowPadding": 6, "labelOffset": 4, "titlePadding": 7, "labelFontSize": 21, "titleFontSize": 21, "titleFontWeight": "normal", "labelFont": "Liberation Sans", "titleFont": "Liberation Sans", "labelColor": "#000000", "titleColor": "#000000", "padding": 0}}
     }
    },
    {
     "transform": [{"filter": "datum.kind === 'linear'"}],
     "mark": {"type": "line", "strokeWidth": 3, "interpolate": "monotone", "strokeDash": [9, 6], "clip": true},
     "encoding": {
      "x": {"field": "E", "type": "quantitative", "axis": null},
      "y": {"field": "A", "type": "quantitative", "axis": null},
      "color": {"field": "series", "type": "nominal", "sort": null, "legend": null}
     }
    },
    {
     "transform": [{"filter": "datum.kind === 'nonlinear'"}],
     "mark": {"type": "line", "strokeWidth": 2.5, "interpolate": "linear", "strokeDash": [2.5, 9], "clip": true},
     "encoding": {
      "x": {"field": "E", "type": "quantitative", "axis": {"orient": "bottom", "values": [17.5, 22.5, 27.5, 32.5, 37.5], "tickSize": 5, "labels": false, "domain": false, "title": null}},
      "y": {"field": "A", "type": "quantitative", "axis": {"orient": "left", "values": [-0.5, 0.5, 1.5, 2.5, 3.5, 4.5], "tickSize": 5, "labels": false, "domain": false, "title": null}},
      "color": {"field": "series", "type": "nominal", "sort": null, "legend": null}
     }
    }
   ]
  }
 ],
 "config": {
  "font": "Liberation Sans",
  "view": {"stroke": "#000000", "strokeWidth": 1.5},
  "axis": {"domainColor": "#000000", "domainWidth": 1.5, "tickColor": "#000000", "tickWidth": 1.5, "labelColor": "#000000", "labelFont": "Liberation Sans", "labelFontSize": 20, "titleFont": "Liberation Sans", "titleFontSize": 26, "titleFontWeight": "normal", "titleColor": "#000000", "grid": false, "labelFlush": false, "labelOverlap": false}
 }
}
